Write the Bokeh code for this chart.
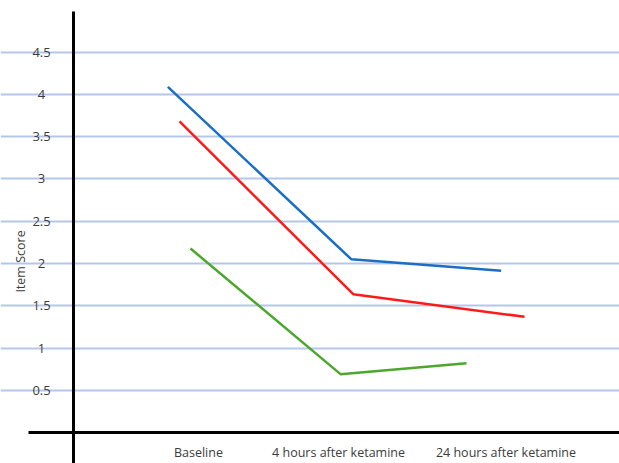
import math
from bokeh.plotting import figure
from bokeh.models import Range1d, FixedTicker, ColumnDataSource
from bokeh.core.properties import value
from bokeh.embed import file_html
from bokeh.resources import INLINE

# --- data ---
categories = ["Baseline", "4 hours after ketamine", "24 hours after ketamine"]
category_pos = [0.833, 1.767, 2.883]
y_ticks = [0.5, 1, 1.5, 2, 2.5, 3, 3.5, 4, 4.5]
y_tick_labels = ["0.5", "1", "1.5", "2", "2.5", "3", "3.5", "4", "4.5"]
y_title = "Item Score"

blue_x = [0.629, 1.853, 2.851]
blue_y = [4.09, 2.05, 1.915]
red_x = [0.707, 1.865, 3.007]
red_y = [3.68, 1.638, 1.371]
green_x = [0.78, 1.78, 2.62]
green_y = [2.178, 0.693, 0.823]

W, H = 619, 463
p = figure(width=W, height=H, output_backend="svg", toolbar_location=None,
           x_range=Range1d(-0.4867, 3.64), y_range=Range1d(-0.363, 5.110),
           min_border=0)
p.outline_line_color = None

# axis lines placed at fixed data locations (labels drawn as text below)
p.yaxis.fixed_location = 0
p.xaxis.fixed_location = 0
p.yaxis.bounds = (-0.363, 4.98)
p.xaxis.bounds = (-0.30, 3.64)
for ax in (p.xaxis[0], p.yaxis[0]):
    ax.ticker = FixedTicker(ticks=[])
    ax.axis_line_color = "black"
    ax.axis_line_width = 3
    ax.major_tick_line_color = None
    ax.minor_tick_line_color = None
    ax.major_label_text_font_size = "0px"

p.xgrid.grid_line_color = None
p.ygrid.ticker = FixedTicker(ticks=y_ticks)
p.ygrid.grid_line_color = "#b4c7e7"
p.ygrid.grid_line_width = 2
p.ygrid.bounds = (-0.02, 3.64)

p.line(blue_x, blue_y, line_color="#1a6fc4", line_width=2.5)
p.line(red_x, red_y, line_color="#ff1a1a", line_width=2.5)
p.line(green_x, green_y, line_color="#4ca72e", line_width=2.5)

font = value("Open Sans")
ysrc = ColumnDataSource(dict(y=y_ticks, t=y_tick_labels))
p.text(x=-0.213, y="y", text="t", source=ysrc, text_font=font,
       text_font_size="13px", text_color="#3c3c3c",
       text_align="center", text_baseline="middle")
xsrc = ColumnDataSource(dict(x=category_pos, t=categories))
p.text(x="x", y=-0.233, text="t", source=xsrc, text_font=font,
       text_font_size="12.5px", text_color="#3c3c3c",
       text_align="center", text_baseline="middle")
p.text(x=[-0.353], y=[2.025], text=[y_title], angle=math.pi / 2,
       text_font=font, text_font_size="12.5px", text_color="#3c3c3c",
       text_align="center", text_baseline="middle")

open("out.html", "w").write(file_html(p, INLINE))
